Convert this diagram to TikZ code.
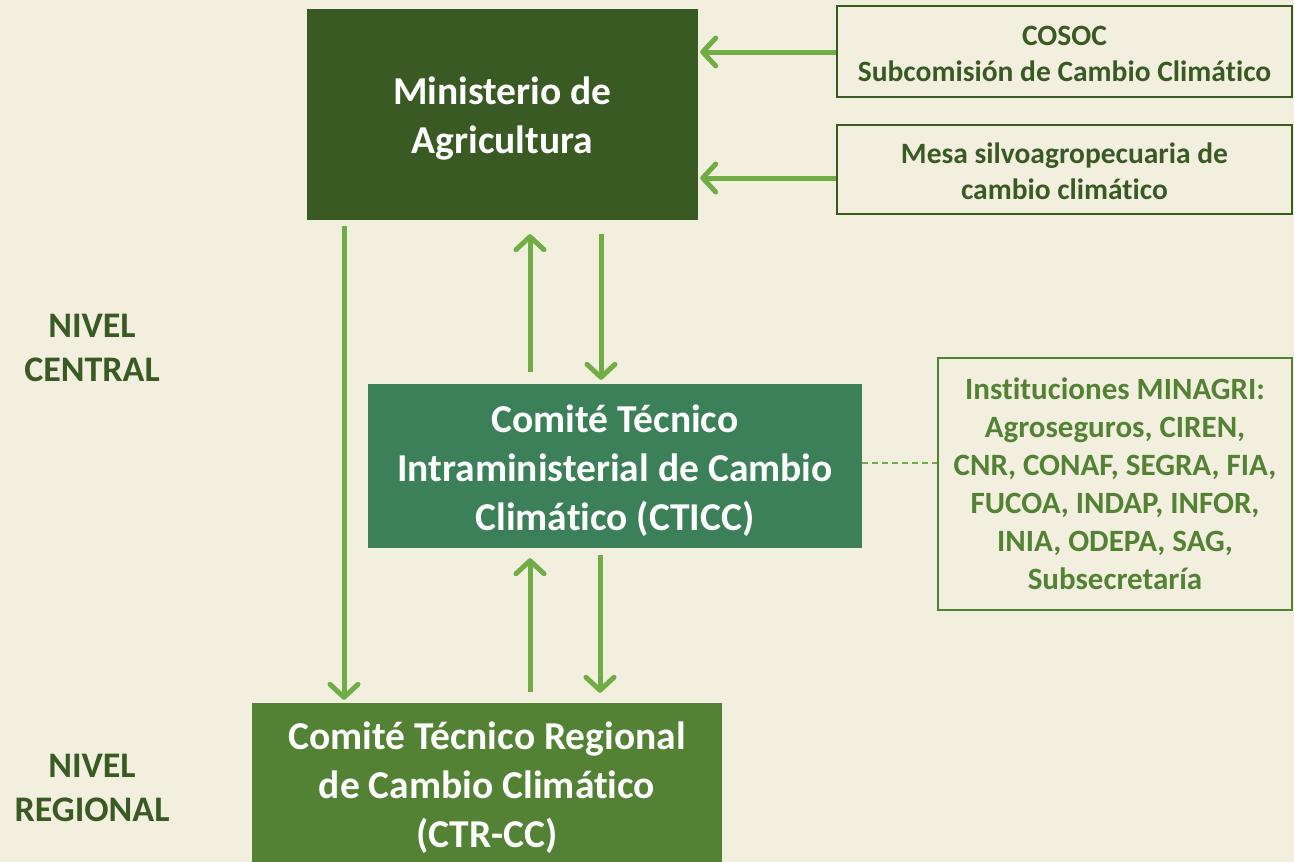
\documentclass[tikz,border=0pt]{standalone}
\usepackage{fontspec}
\setmainfont{Carlito}[Ligatures={NoCommon}]
\usetikzlibrary{arrows.meta,calc}
\definecolor{bg}{HTML}{F3EFDF}
\definecolor{dkgreen}{HTML}{3A5A24}
\definecolor{teal}{HTML}{3C8059}
\definecolor{midgreen}{HTML}{548235}
\definecolor{lgreen}{HTML}{70AD47}
\tikzset{
  bigbox/.style={rectangle, inner sep=0pt, text=white, align=center,
    font=\fontsize{39.5}{49}\selectfont\bfseries},
  outbox/.style={rectangle, draw, line width=2pt, inner sep=0pt, align=center},
  arr/.style={draw=lgreen, line width=5pt,
    -{Straight Barb[length=13pt,width=28pt,line cap=round,line join=round]}},
  lbl/.style={text=dkgreen, align=center, font=\fontsize{36}{44}\selectfont\bfseries}
}
\begin{document}
\begin{tikzpicture}[x=1pt,y=-1pt]
\useasboundingbox (0,0) rectangle (1294,862);
\clip (0,0) rectangle (1294,862);
\fill[bg] (0,0) rectangle (1294,862);

\node[bigbox, fill=dkgreen, minimum width=391pt, minimum height=211pt] (min) at (502.5,114.5) {};
\node[bigbox] (mintext) at (502.5,118) {Ministerio de\\Agricultura};
\node[outbox, draw=dkgreen, minimum width=455pt, minimum height=91pt] (cosoc) at (1064.5,51.5) {};
\node[text=dkgreen, align=center, font=\fontsize{29.5}{36}\selectfont\bfseries] (cosoctext) at (1064.5,53.5) {COSOC\\Subcomisión de Cambio Climático};
\node[outbox, draw=dkgreen, minimum width=455pt, minimum height=89pt] (mesa) at (1064.5,169.5) {};
\node[text=dkgreen, align=center, font=\fontsize{29.5}{36}\selectfont\bfseries] (mesatext) at (1064.5,171) {Mesa silvoagropecuaria de\\cambio climático};
\node[bigbox, fill=teal, minimum width=494pt, minimum height=164pt] (cticc) at (615,466) {};
\node[bigbox] (ctictext) at (615,470.5) {Comité Técnico\\Intraministerial de Cambio\\Climático (CTICC)};
\node[outbox, draw=midgreen, minimum width=354pt, minimum height=252pt] (inst) at (1115,484) {};
\node[text=midgreen, align=center, font=\fontsize{31}{38}\selectfont\bfseries] (insttext) at (1115,484) {Instituciones MINAGRI:\\Agroseguros, CIREN,\\CNR, CONAF, SEGRA, FIA,\\FUCOA, INDAP, INFOR,\\INIA, ODEPA, SAG,\\Subsecretaría};
\node[bigbox, fill=midgreen, minimum width=470pt, minimum height=166pt] (ctr) at (487,786) {};
\node[bigbox] (ctrtext) at (487,788) {Comité Técnico Regional\\de Cambio Climático\\(CTR-CC)};

\node[lbl] (central) at (92,347.5) {NIVEL\\CENTRAL};
\node[lbl] (regional) at (92,787.5) {NIVEL\\REGIONAL};

\coordinate (xa) at (344,0);
\coordinate (xb) at (530,0);
\coordinate (xc) at (601,0);
\coordinate (xd) at (600,0);
\coordinate (ya) at (0,52);
\coordinate (yb) at (0,178);
\coordinate (yc) at (0,463);

\draw[arr] (cosoc.west |- ya) -- ([xshift=2pt]min.east |- ya);
\draw[arr] (mesa.west |- yb) -- ([xshift=2pt]min.east |- yb);
\draw[arr] ([yshift=-6pt]min.south -| xa) -- ([yshift=3pt]ctr.north -| xa);
\draw[arr] ([yshift=12pt]cticc.north -| xb) -- ([yshift=-14pt]min.south -| xb);
\draw[arr] ([yshift=-14pt]min.south -| xc) -- ([yshift=4pt]cticc.north -| xc);
\draw[arr] ([yshift=11pt]ctr.north -| xb) -- ([yshift=-10pt]cticc.south -| xb);
\draw[arr] ([yshift=-7pt]cticc.south -| xd) -- ([yshift=10pt]ctr.north -| xd);
\draw[lgreen, line width=1.5pt, dash pattern=on 6pt off 4pt] (cticc.east |- yc) -- (inst.west |- yc);
\end{tikzpicture}
\end{document}
